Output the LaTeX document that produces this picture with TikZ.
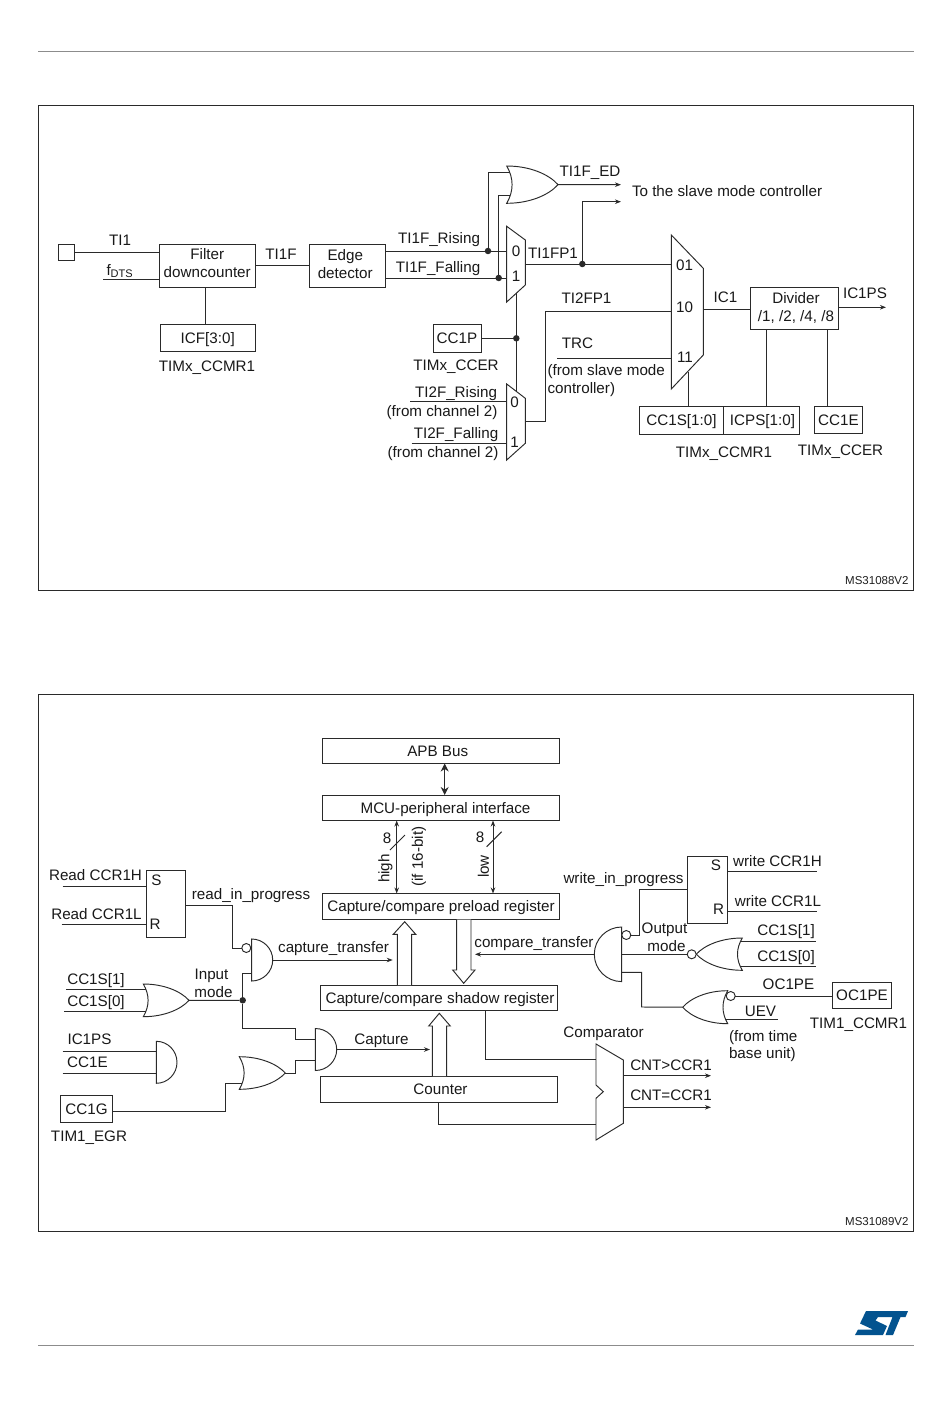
\documentclass[tikz,border=0pt]{standalone}
\usepackage{fontspec}
\setmainfont{Liberation Sans}
\usetikzlibrary{arrows.meta,calc}
\definecolor{ink}{HTML}{2A2A2A}
\definecolor{rulegrey}{HTML}{8C8C8C}
\definecolor{stblue}{HTML}{03538F}
\tikzset{
  x=1pt,y=-1pt,
  wire/.style={draw=ink,line width=0.95pt,line join=miter},
  arrowwire/.style={wire,-{Stealth[length=6pt,width=4.5pt]}},
  dblwire/.style={wire,{Stealth[length=6pt,width=4.5pt]}-{Stealth[length=6pt,width=4.5pt]}},
  bigdbl/.style={wire,{Stealth[length=8pt,width=8pt]}-{Stealth[length=8pt,width=8pt]}},
  gate/.style={draw=ink,line width=0.95pt,fill=white,line join=miter},
  framebox/.style={draw=ink,line width=0.95pt},
  hrule/.style={draw=rulegrey,line width=1pt},
  txt/.style={font=\fontsize{15.2}{18}\selectfont,text=black!90,inner sep=0pt,outer sep=0pt},
  lab/.style={txt,text height=10.9pt,text depth=0pt},
  small/.style={inner sep=0pt,outer sep=0pt,text=black!88,font=\fontsize{11.5}{12}\selectfont},
  box/.style={draw=ink,line width=0.95pt,fill=white,inner sep=0pt,outer sep=0pt},
  dot/.style={circle,fill=ink,draw=none,minimum size=6.5pt,inner sep=0pt,outer sep=0pt},
  bubble/.style={circle,draw=ink,line width=0.95pt,fill=white,minimum size=9pt,inner sep=0pt,outer sep=0pt},
}
% box with a one-line text
\newcommand\bxa[6]{\node[box,lab,minimum width={(#4-#2)*1pt},minimum height={(#5-#3)*1pt}] (#1) at ({(#2+#4)/2},{(#3+#5)/2}) {#6};}
% box with a two-line text
\newcommand\bxb[6]{\node[box,txt,align=center,minimum width={(#4-#2)*1pt},minimum height={(#5-#3)*1pt}] (#1) at ({(#2+#4)/2},{(#3+#5)/2}) {#6};}
\newcommand\lb[4]{\node[lab] (#1) at (#2,#3) {#4};}
\newcommand\lbw[4]{\node[lab,anchor=west] (#1) at (#2,#3) {#4};}
\newcommand\lbr[4]{\node[lab,rotate=90] (#1) at (#2,#3) {#4};}
\newcommand\dt[3]{\node[dot] (#1) at (#2,#3) {};}
\newcommand\bb[3]{\node[bubble] (#1) at (#2,#3) {};}
\newcommand\pt[3]{\coordinate (#1) at (#2,#3);}
% OR-shaped gate: name, back x, top y, bottom y, tip x, input y1, input y2
\newcommand\orshape[7]{%
  \pgfmathsetmacro\gW{#5-#2}\pgfmathsetmacro\gH{#4-#3}\pgfmathsetmacro\gM{(#3+#4)/2}%
  \pgfmathsetmacro\gI{0.105*\gW}%
  \draw[gate] (#2,#3) .. controls ({#2+0.45*\gW},#3) and ({#2+0.82*\gW},{#3+0.22*\gH}) .. (#5,\gM)
    .. controls ({#2+0.82*\gW},{#4-0.22*\gH}) and ({#2+0.45*\gW},#4) .. (#2,#4)
    .. controls ({#2+1.33*\gI},{#4-0.33*\gH}) and ({#2+1.33*\gI},{#3+0.33*\gH}) .. cycle;
  \coordinate (#1-tip) at (#5,\gM);
  \pgfmathsetmacro\gA{#2+\gI*(1-((#6-\gM)/(\gH/2))^2)}\coordinate (#1-a) at (\gA,#6);
  \pgfmathsetmacro\gB{#2+\gI*(1-((#7-\gM)/(\gH/2))^2)}\coordinate (#1-b) at (\gB,#7);
}
% AND-shaped gate: name, flat x, top y, bottom y, tip x
\newcommand\andshape[5]{%
  \pgfmathsetmacro\gW{#5-#2}\pgfmathsetmacro\gH{#4-#3}\pgfmathsetmacro\gM{(#3+#4)/2}%
  \draw[gate] (#2,#3) .. controls ({#2+0.55*\gW},#3) and (#5,{\gM-0.276*\gH}) .. (#5,\gM)
    .. controls (#5,{\gM+0.276*\gH}) and ({#2+0.55*\gW},#4) .. (#2,#4) -- cycle;
  \coordinate (#1-tip) at (#5,\gM);
}
\begin{document}
\begin{tikzpicture}
\useasboundingbox (0,0) rectangle (950,1420);
\fill[white] (0,0) rectangle (950,1420);
% page rules and frames
\pt{ruleAl}{38}{52}\pt{ruleAr}{914}{52}\pt{ruleBl}{38}{1345}\pt{ruleBr}{914}{1345}
\draw[hrule] (ruleAl) -- (ruleAr);
\draw[hrule] (ruleBl) -- (ruleBr);
\draw[framebox] (38.5,105.5) rectangle (913.5,590.5);
\draw[framebox] (38.5,694.5) rectangle (913.5,1231.5);
\node[small,anchor=east] (refA) at (908.5,581) {MS31088V2};
\node[small,anchor=east] (refB) at (908.5,1222) {MS31089V2};
% ST logo
\fill[stblue] (866,1311) -- (908,1311) -- (905.5,1317) -- (900.5,1317) -- (893,1335) -- (885.5,1335) -- (892.5,1317) -- (878,1317) -- (875.5,1320.5) -- (887,1326) -- (883,1335) -- (855,1335) -- (858,1329.5) -- (873,1329.5) -- (860,1323.5) -- cycle;

%%%%%%%% TOP DIAGRAM
\bxa{pin}{58.5}{244}{74}{260.5}{}
\bxb{filter}{159.5}{244.5}{255}{287}{Filter\\downcounter\rule[-5.5pt]{0pt}{5.5pt}}
\bxb{edge}{309}{244.5}{385.5}{287}{\hspace*{-4pt}Edge\\\hspace*{-4pt}detector\rule[-4pt]{0pt}{4pt}}
\bxa{icf}{160}{324}{255.5}{351.5}{ICF[3:0]}
\bxa{ccp}{433}{324}{481}{352}{CC1P}
\bxb{divider}{750.5}{287}{838.5}{329}{\hspace*{3pt}Divider\\\hspace*{3pt}/1, /2, /4, /8}
\bxa{ccs}{639.5}{406}{723.5}{434}{CC1S[1:0]}
\bxa{icps}{723.5}{406}{799.5}{434}{\hspace*{2pt}ICPS[1:0]}
\bxa{cce}{814.5}{406}{862.5}{433.5}{CC1E}

\lb{tTIone}{120}{240}{TI1}
\node[lab,anchor=west] (tfdts) at (106.5,270) {f{\fontsize{11}{12}\selectfont\raisebox{-2.5pt}{DTS}}};
\lb{tTIoneF}{281}{254}{TI1F}
\lb{tCCMRa}{207}{366}{TIMx\_CCMR1}
\lb{tRise}{439}{238}{TI1F\_Rising}
\lb{tFall}{438}{267}{TI1F\_Falling}
\lb{tED}{590}{171}{TI1F\_ED}
\lbw{tSlave}{632}{191}{To the slave mode controller}
\lb{tFP}{553}{253}{TI1FP1}
\lb{tFPtwo}{586.5}{298.5}{TI2FP1}
\lb{tTRC}{577.5}{343.5}{TRC}
\lbw{tFromS}{547.5}{370}{(from slave mode}
\lbw{tCtrl}{547.5}{388}{controller)}
\lb{tCCERa}{456}{365}{TIMx\_CCER}
\lb{tRiseTwo}{456}{392}{TI2F\_Rising}
\lb{tChA}{442}{411}{(from channel 2)}
\lb{tFallTwo}{456}{433}{TI2F\_Falling}
\lb{tChB}{443}{452}{(from channel 2)}
\lb{tIC}{725.5}{297.5}{IC1}
\lb{tICPS}{865}{293.5}{IC1PS}
\lb{tCCMRb}{724}{452}{TIMx\_CCMR1}
\lb{tCCERb}{840.5}{450}{TIMx\_CCER}

% muxes
\draw[gate] (506.7,226.3) -- (525.3,240) -- (525.3,285) -- (506.7,302) -- cycle;
\draw[gate] (506.7,384) -- (525.3,398.3) -- (525.3,443.3) -- (506.7,460) -- cycle;
\draw[gate] (671.3,235) -- (703.3,268.3) -- (703.3,355) -- (671.3,389) -- cycle;
\lb{mA}{516}{251}{0}\lb{mB}{516}{276}{1}
\lb{mC}{514.5}{402}{0}\lb{mD}{514.5}{442}{1}
\lb{mE}{684.5}{265}{01}\lb{mF}{684.5}{307}{10}\lb{mG}{685}{357}{11}
\orshape{orED}{506.7}{166}{203.3}{558}{172.7}{195}

% junctions and free ends
\dt{jRise}{488}{251}\dt{jFall}{498.7}{278}\dt{jFP}{582.3}{264}\dt{jSel}{516.3}{338.3}
\pt{mAin}{506.7}{251}\pt{mBin}{506.7}{278}\pt{mAout}{525.3}{264}\pt{cAin}{671.3}{264}
\pt{mAsel}{516.3}{293.5}\pt{mBsel}{516.3}{391}
\pt{mBinA}{506.7}{401.7}\pt{mBinB}{506.7}{443.3}\pt{freeRA}{410}{401.7}\pt{freeFA}{411.7}{443.3}
\pt{mBout}{525.3}{421.7}\pt{cBin}{671.3}{311.3}\pt{cCin}{671.3}{358.3}\pt{freeTRC}{557.3}{358.3}
\pt{cOut}{703.3}{309.3}\pt{endED}{621}{184.7}\pt{endSl}{621}{201.7}\pt{endPS}{886}{307.3}
\pt{freeFd}{103}{279.7}\pt{cSel}{688.3}{372}
\draw[wire] (pin.east) -- (filter.west |- pin.east);
\draw[wire] (freeFd) -- (filter.west |- freeFd);
\draw[wire] (filter.east |- edge.west) -- (edge.west);
\draw[wire] (icf.north -| 205,0) -- (filter.south -| 205,0);
\draw[wire] (edge.east |- jRise) -- (mAin);
\draw[wire] (edge.east |- jFall) -- (mBin);
\draw[wire] (jRise) |- (orED-a);
\draw[wire] (jFall) |- (orED-b);
\draw[arrowwire] (orED-tip) -- (endED);
\draw[wire] (mAout) -- (cAin);
\draw[arrowwire] (jFP) |- (endSl);
\draw[wire] (mAsel) -- (mBsel);
\draw[wire] (ccp.east |- jSel) -- (jSel);
\draw[wire] (freeRA) -- (mBinA);
\draw[wire] (freeFA) -- (mBinB);
\draw[wire] (mBout) -| (545,311.3) -- (cBin);
\draw[wire] (freeTRC) -- (cCin);
\draw[wire] (cOut) -- (divider.west |- cOut);
\draw[arrowwire] (divider.east |- endPS) -- (endPS);
\draw[wire] (cSel) -- (ccs.north -| cSel);
\draw[wire] (divider.south -| 766,0) -- (icps.north -| 766,0);
\draw[wire] (divider.south -| 827.7,0) -- (cce.north -| 827.7,0);

%%%%%%%% BOTTOM DIAGRAM
\bxa{apb}{322.5}{738}{559.5}{763.5}{\hspace*{-6.6pt}APB Bus}
\bxa{mcu}{322.5}{795}{559.5}{820.5}{\hspace*{9pt}MCU-peripheral interface}
\bxa{prel}{322.5}{893.5}{559.5}{919.5}{Capture/compare preload register}
\bxa{shad}{320.5}{985}{557.5}{1010.5}{\hspace*{2pt}Capture/compare shadow register}
\bxa{cnt}{320.5}{1076}{557.5}{1102}{\hspace*{3pt}Counter}
\bxa{rsr}{146}{870}{185.5}{937.5}{}
\bxa{wsr}{687.5}{856.5}{727.5}{923}{}
\bxa{gbox}{60.5}{1095.5}{112.5}{1122.5}{CC1G}
\bxa{oc}{832.5}{982.5}{891.5}{1008}{OC1PE}

% hollow arrows
\draw[gate] (397.3,985) -- (397.3,934.3) -- (393.3,934.3) -- (404.7,921.7) -- (415.7,934.3) -- (411.7,934.3) -- (411.7,985);
\draw[gate] (456.7,919.5) -- (456.7,970) -- (452.7,970) -- (463.7,983.3) -- (475,970) -- (471,970) -- (471,919.5);
\draw[gate] (432.3,1076) -- (432.3,1026) -- (428.7,1026) -- (439.3,1013.3) -- (450.3,1026) -- (446.7,1026) -- (446.7,1076);

\lb{bE}{387}{838}{8}\lb{bF}{480}{837.5}{8}
\lbr{bHigh}{384}{868.5}{high}
\lbr{bIf}{417.5}{856.5}{(if 16-bit)}
\lbr{bLow}{483.5}{866.5}{low}
\lb{bRH}{95.5}{875}{Read CCR1H}
\lb{bRL}{96.5}{914}{Read CCR1L}
\lb{bS}{156.5}{880}{S}\lb{bR}{155}{924}{R}
\lb{bRP}{251}{894}{read\_in\_progress}
\lb{bCT}{333.5}{947}{capture\_transfer}
\lb{bInp}{211.5}{974.5}{Input}
\lb{bMode}{213.5}{992.5}{mode}
\lb{bSa}{96}{979}{CC1S[1]}
\lb{bSb}{96}{1001.5}{CC1S[0]}
\lb{bPS}{89.5}{1039.5}{IC1PS}
\lb{bCE}{87.5}{1062.5}{CC1E}
\lb{bEG}{89}{1136.5}{TIM1\_EGR}
\lb{bCap}{381.5}{1039}{Capture}
\lb{bCmp}{603.5}{1032.5}{Comparator}
\lb{bGT}{671}{1065}{CNT>CCR1}
\lb{bEQ}{671}{1095}{CNT=CCR1}
\lb{bWP}{623.5}{878.5}{write\_in\_progress}
\lb{bS2}{716}{865}{S}\lb{bR2}{718.5}{909}{R}
\lb{bWH}{777.5}{861}{write CCR1H}
\lb{bWL}{778}{901}{write CCR1L}
\lb{bCPT}{534}{942}{compare\_transfer}
\lb{bOut}{664.5}{928.5}{Output}
\lb{bMo}{666.5}{946}{mode}
\lb{bWa}{786}{930}{CC1S[1]}
\lb{bWb}{786}{956.5}{CC1S[0]}
\lb{bOC}{788.5}{984}{OC1PE}
\lb{bUEV}{760.5}{1011}{UEV}
\lbw{bFT}{729}{1036}{(from time}
\lbw{bBU}{729}{1053}{base unit)}
\lb{bCCM}{858.5}{1023.5}{TIM1\_CCMR1}

% gates
\orshape{orIn}{143.3}{984}{1016.7}{189}{989.3}{1011.3}
\orshape{orCap}{239.3}{1056.7}{1089.3}{285.3}{1060}{1083.3}
\andshape{andPS}{156.3}{1041.3}{1083.3}{177}
\andshape{andCT}{251.7}{939}{981}{272.7}
\andshape{andCap}{315.3}{1028.5}{1070.5}{336.7}
\andshape{andCmp}{621.7}{927}{981.6}{594.3}
\orshape{norOut}{742.3}{938}{970.3}{696.3}{941}{966.3}
\orshape{norPE}{727.7}{990.7}{1023.7}{682.7}{996}{1019.3}
\draw[gate] (596,1044) -- (623.3,1060) -- (623.3,1123.3) -- (596,1140) -- (596,1098.3) -- (603.3,1091.7) -- (596,1085) -- cycle;

% junctions and free ends
\dt{jIn}{242.7}{1000.3}
\bb{bubCT}{246.3}{948}
\bb{bubCmp}{626.3}{935}
\bb{bubOut}{691.7}{954.3}
\bb{bubPE}{730.7}{996}
\pt{andCTb}{251.7}{973.3}\pt{andCapA}{315.3}{1039.3}\pt{andCapB}{315.3}{1060.7}
\pt{andCmpC}{621.7}{972.3}\pt{andCmpB}{621.7}{954.3}
\pt{fRH}{62.7}{886.3}\pt{fRL}{61.7}{924.3}\pt{fSa}{66}{989.3}\pt{fSb}{64.3}{1011.3}
\pt{fPS}{62.7}{1051.3}\pt{fCE}{62.7}{1073}\pt{andPSa}{156.3}{1051.3}\pt{andPSb}{156.3}{1073}
\pt{eCT}{392.7}{960}\pt{eCap}{430}{1049.5}\pt{eCmp}{475}{954.3}
\pt{cmpA}{596}{1059.3}\pt{cmpB}{596}{1124.7}
\pt{cmpOutA}{623.3}{1075.7}\pt{cmpOutB}{623.3}{1107.3}\pt{eGT}{711}{1075.7}\pt{eEQ}{711}{1107.3}
\pt{fWH}{817.3}{871.3}\pt{fWL}{817.3}{911.3}\pt{fWa}{816}{941}\pt{fWb}{816}{966.3}
\pt{fUEV}{777.7}{1019.3}
% bus arrows
\draw[bigdbl] (apb.south -| 444.7,0) -- (mcu.north -| 444.7,0);
\draw[dblwire] (mcu.south -| 396.7,0) -- (prel.north -| 396.7,0);
\draw[dblwire] (mcu.south -| 493,0) -- (prel.north -| 493,0);
\pt{slAa}{390}{850}\pt{slAb}{405}{835}\pt{slBa}{486.7}{846.7}\pt{slBb}{501.7}{831.7}
\draw[wire] (slAa) -- (slAb);
\draw[wire] (slBa) -- (slBb);
% left wires
\draw[wire] (fRH) -- (rsr.west |- fRH);
\draw[wire] (fRL) -- (rsr.west |- fRL);
\draw[wire] (rsr.east |- 0,905.3) -| (232.3,948) -- (bubCT.west);
\draw[wire] (jIn) |- (andCTb);
\draw[wire] (fSa) -- (orIn-a);
\draw[wire] (fSb) -- (orIn-b);
\draw[wire] (orIn-tip) -- (jIn);
\draw[wire] (jIn) |- (295.7,1028.3) |- (andCapA);
\draw[wire] (orCap-tip) -| (295.7,1060.7) -- (andCapB);
\draw[wire] (gbox.east |- 0,1111.3) -| (225.7,1083.3) -- (orCap-b);
\draw[wire] (fPS) -- (andPSa);
\draw[wire] (fCE) -- (andPSb);
\draw[arrowwire] (andCT-tip) -- (eCT);
\draw[arrowwire] (andCap-tip) -- (eCap);
% right wires
\draw[arrowwire] (andCmp-tip) -- (eCmp);
\draw[wire] (shad.south -| 485.3,0) |- (cmpA);
\draw[wire] (cnt.south -| 438.7,0) |- (cmpB);
\draw[arrowwire] (cmpOutA) -- (eGT);
\draw[arrowwire] (cmpOutB) -- (eEQ);
\draw[wire] (wsr.west |- 0,889.3) -| (639.3,935) -- (bubCmp.east);
\draw[wire] (wsr.east |- fWH) -- (fWH);
\draw[wire] (wsr.east |- fWL) -- (fWL);
\draw[wire] (norOut-a) -- (fWa);
\draw[wire] (norOut-b) -- (fWb);
\draw[wire] (andCmpB) -- (bubOut.west);
\draw[wire] (andCmpC) -| (641.7,1007) -- (norPE-tip);
\draw[wire] (bubPE.east) -- (oc.west |- bubPE.east);
\draw[wire] (norPE-b) -- (fUEV);
\end{tikzpicture}
\end{document}
